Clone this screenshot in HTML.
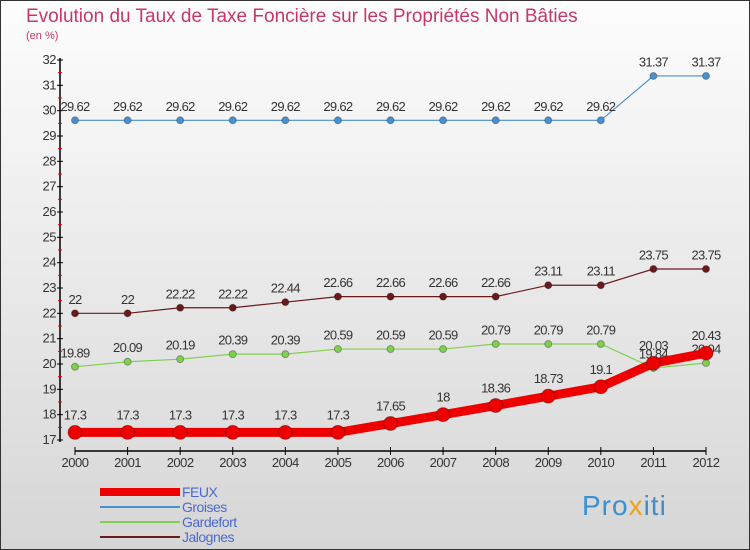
<!DOCTYPE html>
<html><head><meta charset="utf-8"><style>
body{margin:0;width:750px;height:550px;overflow:hidden;font-family:"Liberation Sans",sans-serif}
svg{display:block}
</style></head><body>
<svg width="750" height="550" xmlns="http://www.w3.org/2000/svg">
<defs><linearGradient id="bg" x1="0" y1="0" x2="0" y2="1"><stop offset="0" stop-color="#fdfdfd"/><stop offset="1" stop-color="#d6d6d6"/></linearGradient></defs>
<rect x="0.5" y="0.5" width="749" height="549" fill="url(#bg)" stroke="#333"/>
<text x="26" y="22" font-size="19" fill="#c8366a">Evolution du Taux de Taxe Foncière sur les Propriétés Non Bâties</text>
<text x="26" y="39" font-size="11" fill="#c8366a">(en %)</text>
<g id="axes"></g><g id="series"></g><g id="legend"></g>
<text x="582" y="515" font-size="28" fill="#3a8fd0" letter-spacing="1">Pro<tspan fill="#f0a020">x</tspan><tspan fill="#3a8fd0">iti</tspan></text>
</svg>
<script>
const years=[2000,2001,2002,2003,2004,2005,2006,2007,2008,2009,2010,2011,2012];
const feux=[17.3,17.3,17.3,17.3,17.3,17.3,17.65,18,18.36,18.73,19.1,20.03,20.43];
const groises=[29.62,29.62,29.62,29.62,29.62,29.62,29.62,29.62,29.62,29.62,29.62,31.37,31.37];
const gardefort=[19.89,20.09,20.19,20.39,20.39,20.59,20.59,20.59,20.79,20.79,20.79,19.84,20.04];
const jalognes=[22,22,22.22,22.22,22.44,22.66,22.66,22.66,22.66,23.11,23.11,23.75,23.75];
const yTicks=[17,18,19,20,21,22,23,24,25,26,27,28,29,30,31,32];
const NS="http://www.w3.org/2000/svg";
const X=i=>75+i*(631/12), Y=v=>440-(v-17)*(380/15);
function mk(p,t,a){const e=document.createElementNS(NS,t);for(const k in a)e.setAttribute(k,a[k]);p.appendChild(e);return e;}
const ax=document.getElementById('axes');
let e=mk(ax,'line',{x1:60,y1:58,x2:60,y2:442,stroke:'#000','stroke-width':1.5});

yTicks.forEach(v=>{mk(ax,'line',{x1:57,x2:63,y1:Y(v),y2:Y(v),stroke:'#000'});
 if(v<32)mk(ax,'line',{x1:58,x2:62,y1:Y(v+0.5),y2:Y(v+0.5),stroke:'#e00'});
 const t=mk(ax,'text',{x:56,y:Y(v)+4,'text-anchor':'end','font-size':13,fill:'#333','letter-spacing':'-0.5'});t.textContent=v;
 });
e=mk(ax,'line',{x1:X(0),y1:451,x2:X(12),y2:451,stroke:'#000','stroke-width':1.5});

years.forEach((y,i)=>{mk(ax,'line',{x1:X(i),x2:X(i),y1:447,y2:455,stroke:'#000'});
 const t=mk(ax,'text',{x:X(i),y:467,'text-anchor':'middle','font-size':13,fill:'#333','letter-spacing':'-0.5'});t.textContent=y;
 });
const sg=document.getElementById('series');
function series(name,data,color,w,r){
 const g=mk(sg,'g',{});
 mk(g,'polyline',{points:data.map((v,i)=>X(i)+','+Y(v)).join(' '),fill:'none',stroke:color,'stroke-width':w});
 data.forEach((v,i)=>{const c=mk(g,'circle',{cx:X(i),cy:Y(v),r:r,fill:color,stroke:'rgba(0,0,0,0.3)'});
  
  const t=mk(g,'text',{x:X(i),y:Y(v)-r-6,'text-anchor':'middle','font-size':13,fill:'#333','letter-spacing':'-0.7'});t.textContent=v;
  });
}
series('groises',groises,'#4a90d0',1.2,3.5);
series('jalognes',jalognes,'#6a1a1a',1.2,3.5);
series('gardefort',gardefort,'#80d050',1.2,3.5);
series('feux',feux,'#ee0000',9,7);
const lg=document.getElementById('legend');
[['FEUX','#ee0000',8],['Groises','#4a90d0',2],['Gardefort','#80d050',2],['Jalognes','#6a1a1a',2]].forEach((s,i)=>{
 const y=492+i*15;const g=mk(lg,'g',{});
 mk(g,'line',{x1:100,x2:180,y1:y,y2:y,stroke:s[1],'stroke-width':s[2]});
 const t=mk(g,'text',{x:182,y:y+5,'font-size':14,fill:'#4a6ad0','letter-spacing':'-0.5'});t.textContent=s[0];});
</script>
</body></html>
